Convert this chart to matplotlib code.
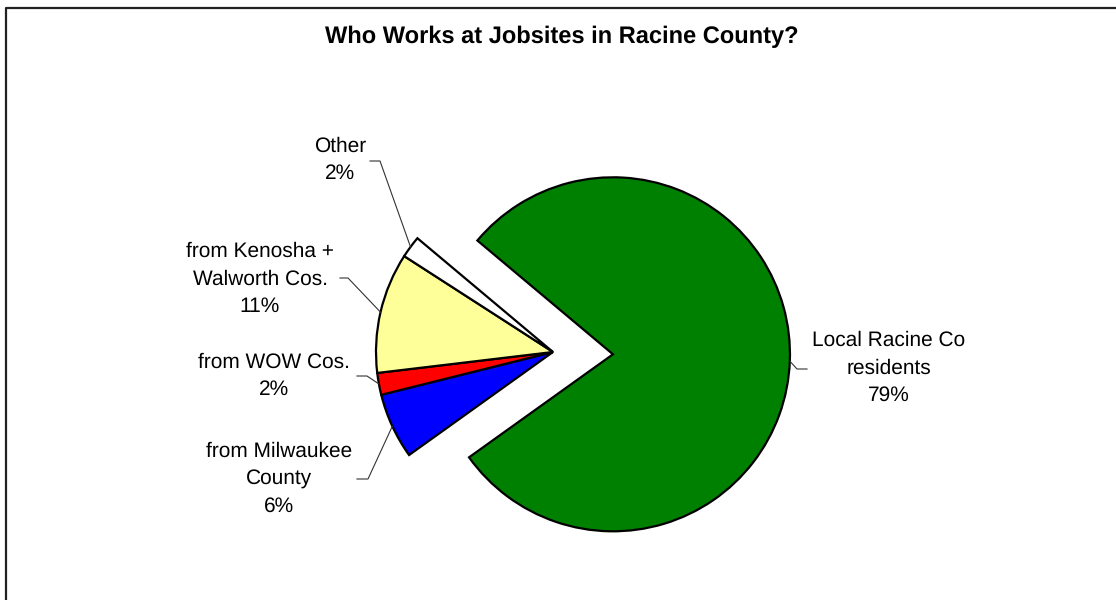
import numpy as np
import matplotlib.pyplot as plt

plt.rcParams['font.family'] = ['Liberation Sans', 'DejaVu Sans']
plt.rcParams['text.hinting'] = 'no_hinting'

# data
categories = ['Local Racine Co\nresidents', 'from Milwaukee\nCounty', 'from WOW Cos.',
              'from Kenosha +\nWalworth Cos.', 'Other']
shares = [79, 6, 2, 11, 2]
colors = ['#008000', '#0000FF', '#FF0000', '#FFFF99', '#FFFFFF']
explode = [60, 0, 0, 0, 0]  # pixels

# label layout (pixel coords, y down): text centre, leader end near text, leader knee
label_pos = [(889, 368), (279, 479), (274, 376), (260, 279), (340, 160)]
leader_end = [(807, 369), (357, 479), (357, 376), (340, 278), (370, 161)]
leader_knee = [(797, 369), (368, 479), (367, 376), (348, 278), (380, 161)]

W, H = 1116, 600
fig = plt.figure(figsize=(W / 100, H / 100), dpi=100)
ax = fig.add_axes([0, 0, 1, 1])

cx, cy, r = 553, H - 352, 177
wedges, _ = ax.pie(shares, colors=colors, explode=explode, startangle=140,
                   counterclock=False, center=(cx, cy), radius=r,
                   wedgeprops=dict(edgecolor='black', linewidth=1.6))
ax.set_xlim(0, W)
ax.set_ylim(0, H)
ax.set_aspect('equal')
ax.axis('off')

for w, lab, v, tp, le, lk in zip(wedges, categories, shares, label_pos, leader_end, leader_knee):
    # point on the arc at the middle of the wedge
    mid = np.deg2rad((w.theta1 + w.theta2) / 2)
    wx, wy = w.center
    ax_pt = (wx + r * np.cos(mid), wy + r * np.sin(mid))
    ax.plot([ax_pt[0], lk[0], le[0]], [ax_pt[1], H - lk[1], H - le[1]],
            color='#333333', lw=0.8, zorder=1)
    ax.text(tp[0], H - tp[1], f'{lab}\n{v}%', ha='center', va='center',
            fontsize=15, linespacing=1.52, color='black')

fig.text(562 / W, 1 - 37 / H, 'Who Works at Jobsites in Racine County?',
         ha='center', va='center', fontsize=17, fontweight='bold')

# chart area border (only top and left edges visible)
ax.plot([6, 6, W], [0, H - 8, H - 8], color='#222222', lw=1.6, clip_on=False)

fig.savefig('out.png', dpi=100)
